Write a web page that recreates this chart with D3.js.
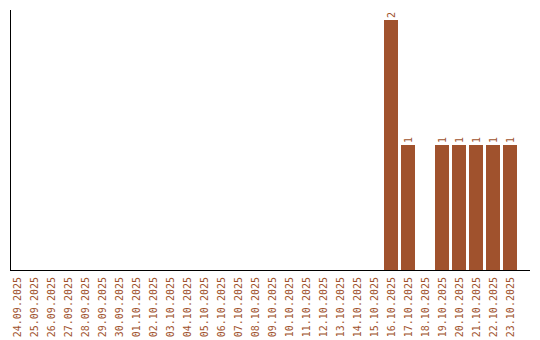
<!DOCTYPE html>
<html>
<head>
<meta charset="utf-8">
<script src="https://cdn.jsdelivr.net/npm/d3@7"></script>
<style>
    body { margin: 0; background: #fff; }
    text { font-family: "DejaVu Sans Mono", monospace; font-size: 10px; fill: #a0522d; }
</style>
</head>
<body>
<div id="chart"></div>
<script>
var dates = ['24.09.2025', '25.09.2025', '26.09.2025', '27.09.2025', '28.09.2025', '29.09.2025',
    '30.09.2025', '01.10.2025', '02.10.2025', '03.10.2025', '04.10.2025', '05.10.2025',
    '06.10.2025', '07.10.2025', '08.10.2025', '09.10.2025', '10.10.2025', '11.10.2025',
    '12.10.2025', '13.10.2025', '14.10.2025', '15.10.2025', '16.10.2025', '17.10.2025',
    '18.10.2025', '19.10.2025', '20.10.2025', '21.10.2025', '22.10.2025', '23.10.2025']
var counts = [0, 0, 0, 0, 0, 0, 0, 0, 0, 0, 0, 0, 0, 0, 0, 0, 0, 0, 0, 0, 0, 0,
    2, 1, 0, 1, 1, 1, 1, 1]

var width = 540
var height = 340
var margin = { top: 10, bottom: 70, left: 10, right: 10 }
var barColor = '#a0522d'

var svg = d3.select('#chart').append('svg')
    .attr('width', width)
    .attr('height', height)

var data = dates.map((d, i) => ({ date: d, count: counts[i] }))

var x = d3.scaleBand()
    .domain(dates)
    .range([margin.left, margin.left + 507])
    .paddingInner(3 / 17)
    .paddingOuter(0)

var y = d3.scaleLinear()
    .domain([0, d3.max(counts)])
    .range([height - margin.bottom, 20])

// bars
svg.append('g')
    .selectAll('rect')
    .data(data.filter(d => d.count > 0))
    .join('rect')
    .attr('x', d => x(d.date))
    .attr('y', d => y(d.count))
    .attr('width', x.bandwidth())
    .attr('height', d => y(0) - y(d.count))
    .attr('fill', barColor)

// value labels
svg.append('g')
    .selectAll('text')
    .data(data.filter(d => d.count > 0))
    .join('text')
    .attr('transform', d => 'translate(' + (x(d.date) + x.bandwidth() / 2 + 3.5) + ',' + (y(d.count) - 2) + ') rotate(-90)')
    .attr('text-anchor', 'start')
    .text(d => d.count)

// x labels
svg.append('g')
    .selectAll('text')
    .data(dates)
    .join('text')
    .attr('transform', d => 'translate(' + (x(d) + x.bandwidth() / 2 + 3.5) + ',' + (height - margin.bottom + 7) + ') rotate(-90)')
    .attr('text-anchor', 'end')
    .text(d => d)

// axes lines
svg.append('line')
    .attr('x1', margin.left + 0.5).attr('x2', margin.left + 0.5)
    .attr('y1', margin.top).attr('y2', height - margin.bottom + 1)
    .attr('stroke', '#000')
svg.append('line')
    .attr('x1', margin.left).attr('x2', width - margin.right)
    .attr('y1', height - margin.bottom + 0.5).attr('y2', height - margin.bottom + 0.5)
    .attr('stroke', '#000')
</script>
</body>
</html>
